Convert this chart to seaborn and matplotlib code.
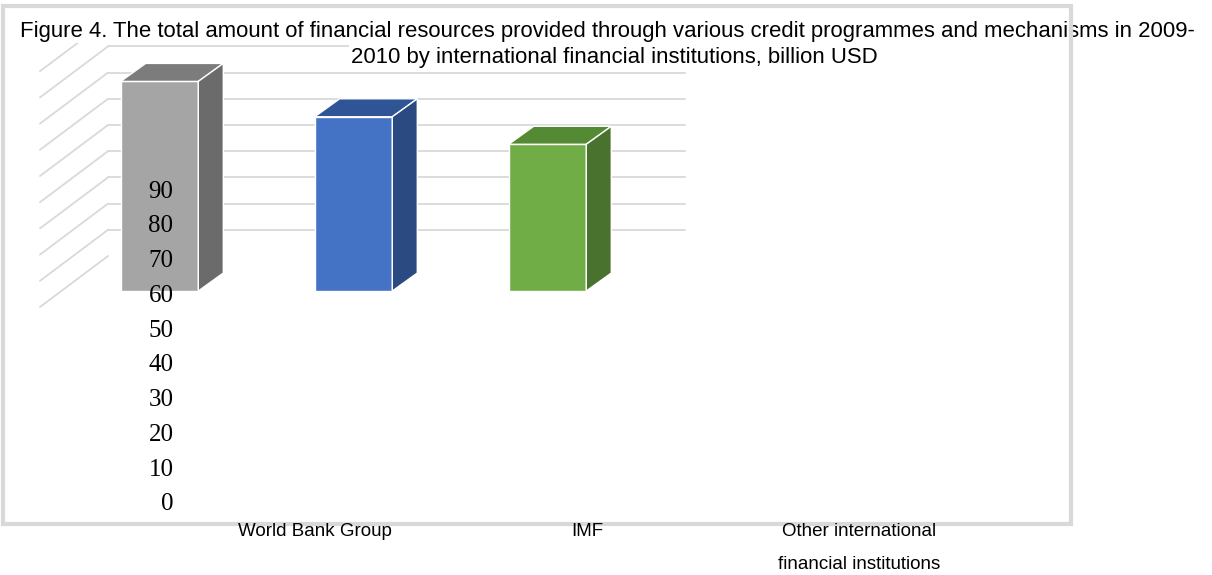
import matplotlib
matplotlib.use("Agg")
import matplotlib.pyplot as plt
from matplotlib.patches import Polygon, Rectangle
import seaborn as sns

# -------------------------------
# Data
# -------------------------------
categories = ["World Bank Group", "IMF", "Other international\nfinancial institutions"]
amounts = [80, 66.5, 56]
front_colors = ["#a5a5a5", "#4472c4", "#70ad47"]
top_colors = ["#7c7c7c", "#2f5597", "#558a34"]
side_colors = ["#6b6b6b", "#2c4a82", "#4a722f"]
y_ticks = [0, 10, 20, 30, 40, 50, 60, 70, 80, 90]
grid_levels = [0, 10, 20, 30, 40, 50, 60, 70, 80, 90]
title_lines = [
    "Figure 4. The total amount of financial resources provided through various "
    "credit programmes and mechanisms in 2009-",
    "2010 by international financial institutions, billion USD",
]

W, H = 1212, 575
GRID_COLOR = "#d9d9d9"


def box(left, top, right, bottom):
    # pixel box -> figure fraction
    return [left / W, 1 - bottom / H, (right - left) / W, (bottom - top) / H]


sns.set_style("white")
plt.rcParams["font.family"] = ["Liberation Sans", "DejaVu Sans"]
plt.rcParams["text.color"] = "black"
plt.rcParams["xtick.color"] = "black"
plt.rcParams["ytick.color"] = "black"

fig = plt.figure(figsize=(W / 100, H / 100), dpi=100)

# -------------------------------
# Bars (front faces)
# -------------------------------
ax = fig.add_axes(box(62.5, 29, 644.5, 291))
sns.barplot(x=categories, y=amounts, hue=categories, palette=front_colors,
            saturation=1, width=0.4, edgecolor="white", linewidth=1,
            legend=False, ax=ax, zorder=3)
ax.set_xlim(-0.5, 2.5)
ax.set_ylim(0, 100)
ax.axis("off")

ux = 3 / 582    # data units per pixel, x
uy = 100 / 262  # data units per pixel, y

# back wall + side wall gridlines
side_x = -0.5 + (40 - 62.5) * ux
wall_x0 = -0.5 + (108 - 62.5) * ux
wall_x1 = -0.5 + (685 - 62.5) * ux
for v in grid_levels:
    yb = v + 35 * uy
    yf = v - 16 * uy
    ax.plot([side_x, wall_x0], [yf, yb], color=GRID_COLOR, lw=1.3,
            clip_on=False, zorder=1)
    if v > 0:
        ax.plot([wall_x0, wall_x1], [yb, yb], color=GRID_COLOR, lw=1.3,
                clip_on=False, zorder=1)

# 3d top and side faces
dx, dy = 25 * ux, 18 * uy
bars = list(ax.patches)
for bar, top_c, side_c in zip(bars, top_colors, side_colors):
    x0 = bar.get_x()
    x1 = x0 + bar.get_width()
    h = bar.get_height()
    ax.add_patch(Polygon([(x0, h), (x1, h), (x1 + dx, h + dy), (x0 + dx, h + dy)],
                         closed=True, fc=top_c, ec="white", lw=1, zorder=3,
                         clip_on=False))
    ax.add_patch(Polygon([(x1, 0), (x1 + dx, dy), (x1 + dx, h + dy), (x1, h)],
                         closed=True, fc=side_c, ec="white", lw=1, zorder=3,
                         clip_on=False))

# -------------------------------
# Value axis and category labels
# -------------------------------
lab = fig.add_axes(box(179, 189, 995, 502))
lab.set_zorder(5)
lab.patch.set_alpha(0)
lab.set_xlim(-0.5, 2.5)
lab.set_ylim(0, 90)
lab.set_xticks(range(len(categories)))
lab.set_xticklabels(categories, fontsize=13.5, linespacing=2.25)
lab.set_yticks(y_ticks)
lab.set_yticklabels([str(t) for t in y_ticks], fontsize=18,
                    family=["Liberation Serif", "DejaVu Serif"])
lab.tick_params(length=0)
lab.tick_params(axis="y", pad=4)
lab.tick_params(axis="x", pad=15)
for s in lab.spines.values():
    s.set_visible(False)

# -------------------------------
# Title and chart frame
# -------------------------------
fig.text(607 / W, 1 - 31 / H, title_lines[0], ha="center", va="center",
         fontsize=15.9, zorder=3,
         bbox=dict(fc="white", ec="none", pad=1))
fig.text(614 / W, 1 - 57 / H, title_lines[1], ha="center", va="center",
         fontsize=15.9, zorder=3,
         bbox=dict(fc="white", ec="none", pad=1))

fig.add_artist(Rectangle((3 / W, 1 - 524 / H), (1071 - 3) / W, (524 - 6) / H,
                         transform=fig.transFigure, fill=False,
                         ec=GRID_COLOR, lw=3, zorder=4))

fig.savefig("out.png", dpi=100, facecolor="white")
